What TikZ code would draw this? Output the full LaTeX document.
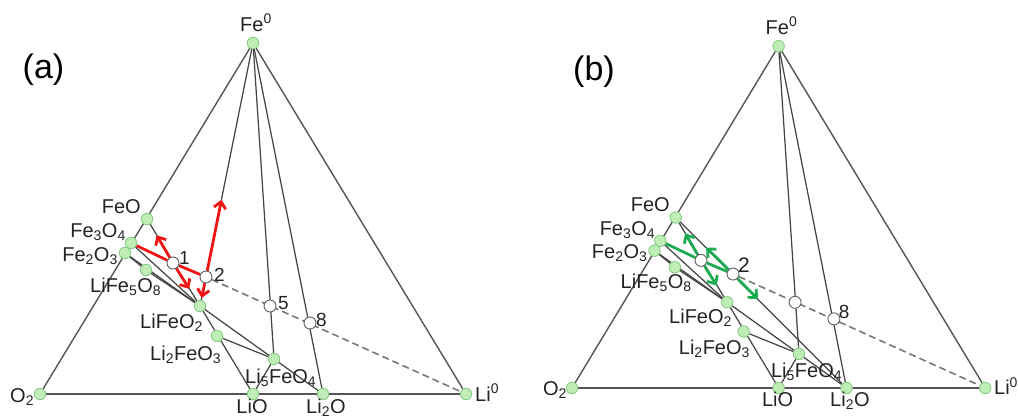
\documentclass[tikz,border=0pt]{standalone}
\usepackage{fontspec}
\setmainfont{Liberation Sans}
\usetikzlibrary{arrows.meta,calc}
\pgfdeclarelayer{bg}
\pgfsetlayers{bg,main}
\definecolor{dotfill}{RGB}{190,238,182}
\definecolor{dotedge}{RGB}{135,200,130}
\definecolor{linegray}{RGB}{70,70,70}
\definecolor{rimgray}{RGB}{85,85,85}
\definecolor{dashgray}{RGB}{120,120,120}
\definecolor{arrred}{RGB}{240,20,20}
\definecolor{arrgreen}{RGB}{30,170,80}
\definecolor{txt}{RGB}{35,35,35}
\newcommand\lsub[1]{\textsubscript{#1}}
\newcommand\lsup[1]{\textsuperscript{#1}}
\tikzset{
 gdot/.style={circle, fill=dotfill, draw=dotedge, line width=0.8pt, minimum size=11.5pt, inner sep=0pt},
 wdot/.style={circle, fill=white, draw=gray!75!black, line width=0.9pt, minimum size=12pt, inner sep=0pt},
 tie/.style={draw=linegray, line width=1.25pt},
 rim/.style={draw=rimgray, line width=1.4pt},
 tiedash/.style={draw=dashgray, line width=1.6pt, dash pattern=on 7pt off 4pt},
 lbl/.style={text=txt, inner sep=0pt, font=\fontsize{20}{22}\selectfont},
 num/.style={text=txt, inner sep=0pt, font=\fontsize{19}{22}\selectfont},
 biglbl/.style={text=black, inner sep=0pt, font=\fontsize{34}{36}\selectfont},
 redpath/.style={draw=arrred, line width=2.8pt, line join=round},
 redarr/.style={redpath, -{Straight Barb[length=6.5pt,width=12pt]}},
 grnpath/.style={draw=arrgreen, line width=2.8pt, line join=round},
 grnarr/.style={grnpath, -{Straight Barb[length=6.5pt,width=12pt]}},
}
\newcommand\drawpanel[1]{%
 \node[gdot] (#1Fe) at (253,43) {};
 \node[gdot] (#1O2) at (40,394) {};
 \node[gdot] (#1Li) at (466,394) {};
 \node[gdot] (#1LiO) at (253,394) {};
 \node[gdot] (#1Li2O) at (323,394) {};
 \node[gdot] (#1FeO) at (147,219) {};
 \node[gdot] (#1Fe3O4) at (131,243) {};
 \node[gdot] (#1Fe2O3) at (125,253) {};
 \node[gdot] (#1LiFe5O8) at (146,270) {};
 \node[gdot] (#1LiFeO2) at (200,306) {};
 \node[gdot] (#1Li2FeO3) at (217,336) {};
 \node[gdot] (#1Li5FeO4) at (274,359) {};
 \node[wdot] (#1p1) at (173,263) {};
 \node[wdot] (#1p2) at (206,277) {};
 \node[wdot] (#1p5) at (270,306) {};
 \node[wdot] (#1p8) at (310,323) {};
 \node[lbl, anchor=base] (#1tFe) at (256,31) {Fe\lsup{0}};
 \node[lbl, anchor=base east] (#1tFeO) at (141,213) {FeO};
 \node[lbl, anchor=base east] (#1tFe3O4) at (126,237) {Fe\lsub{3}O\lsub{4}};
 \node[lbl, anchor=base east] (#1tFe2O3) at (118,261) {Fe\lsub{2}O\lsub{3}};
 \node[lbl, anchor=base west] (#1tLiFe5O8) at (90,292) {LiFe\lsub{5}O\lsub{8}};
 \node[lbl, anchor=base west] (#1tLiFeO2) at (140,328) {LiFeO\lsub{2}};
 \node[lbl, anchor=base west] (#1tLi2FeO3) at (150,360) {Li\lsub{2}FeO\lsub{3}};
 \node[lbl, anchor=base west] (#1tLi5FeO4) at (245,383) {Li\lsub{5}FeO\lsub{4}};
 \node[lbl, anchor=base] (#1tLiO) at (252,413) {LiO};
 \node[lbl, anchor=base west] (#1tLi2O) at (306,413) {Li\lsub{2}O};
 \node[lbl, anchor=base west] (#1tO2) at (10,402) {O\lsub{2}};
 \node[lbl, anchor=base west] (#1tLi) at (475,401) {Li\lsup{0}};
 \begin{pgfonlayer}{bg}
  \draw[rim] (#1O2) -- (#1Fe);
  \draw[rim] (#1Fe) -- (#1Li);
  \draw[rim] (#1O2) -- (#1Li);
  \draw[tie] (#1Fe) -- (#1Li5FeO4);
  \draw[tie] (#1Fe) -- (#1Li2O);
  \draw[tie] (#1Fe3O4) -- (#1LiFeO2);
  \draw[tie] (#1Fe2O3) -- (#1LiFeO2);
  \draw[tie] (#1Fe2O3) -- (#1LiFe5O8);
  \draw[tie] (#1LiFe5O8) -- (#1LiFeO2);
  \draw[tie] (#1FeO) -- (#1LiFeO2);
  \draw[tie] (#1LiFeO2) -- (#1LiO);
  \draw[tie] (#1Li2FeO3) -- (#1Li5FeO4);
  \draw[tie] (#1LiFeO2) -- (#1Li5FeO4);
  \draw[tie] (#1Li5FeO4) -- (#1Li2O);
  \draw[tie] (#1Li5FeO4) -- (#1LiO);
  \draw[tiedash] (#1p2) -- (#1Li);
 \end{pgfonlayer}
}
\begin{document}
\begin{tikzpicture}[x=1pt,y=-1pt]
\useasboundingbox (0,0) rectangle (1018,418);
% ---------- panel (a)
\drawpanel{a}
\node[biglbl] (alab) at (43.5,70) {(a)};
\node[num, anchor=base west] (an1) at (179,264) {1};
\node[num, anchor=base west] (an2) at (214,281) {2};
\node[num, anchor=base west] (an5) at (278,309) {5};
\node[num, anchor=base west] (an8) at (316,326) {8};
\begin{pgfonlayer}{bg}
 \draw[tie] (aFe) -- (aLiFeO2);
 \draw[redpath] (aFe3O4) -- (ap1) -- (ap2);
 \draw[redarr] (ap1) -- ($(ap1)!0.63!(aFeO)$);
 \draw[redarr] (ap1) -- ($(ap1)!0.6!(aLiFeO2)$);
 \draw[redarr] (ap2) -- ($(ap2)!0.33!(aFe)$);
 \draw[redarr] (ap2) -- ($(ap2)!0.72!(aLiFeO2)$);
\end{pgfonlayer}
% ---------- panel (b)
\begin{scope}[shift={(533.2,4.24)}, xscale=0.97, yscale=0.974]
\drawpanel{b}
\node[num, font=\fontsize{21}{24}\selectfont, anchor=base west] (bn2) at (211,275) {2};
\node[num, anchor=base west] (bn8) at (315,323) {8};
\begin{pgfonlayer}{bg}
 \draw[tie] (bFeO) -- (bLi2O);
 \draw[grnpath] (bFe3O4) -- (bp1) -- (bp2);
 \draw[grnarr] (bp1) -- ($(bp1)!0.63!(bFeO)$);
 \draw[grnarr] (bp1) -- ($(bp1)!0.6!(bLiFeO2)$);
 \draw[grnarr] (bp2) -- ($(bp2)!0.47!(bFeO)$);
 \draw[grnarr] (bp2) -- ($(bp2)!0.22!(bLi2O)$);
\end{pgfonlayer}
\end{scope}
\node[biglbl] (blab) at (594,72) {(b)};
\end{tikzpicture}
\end{document}
